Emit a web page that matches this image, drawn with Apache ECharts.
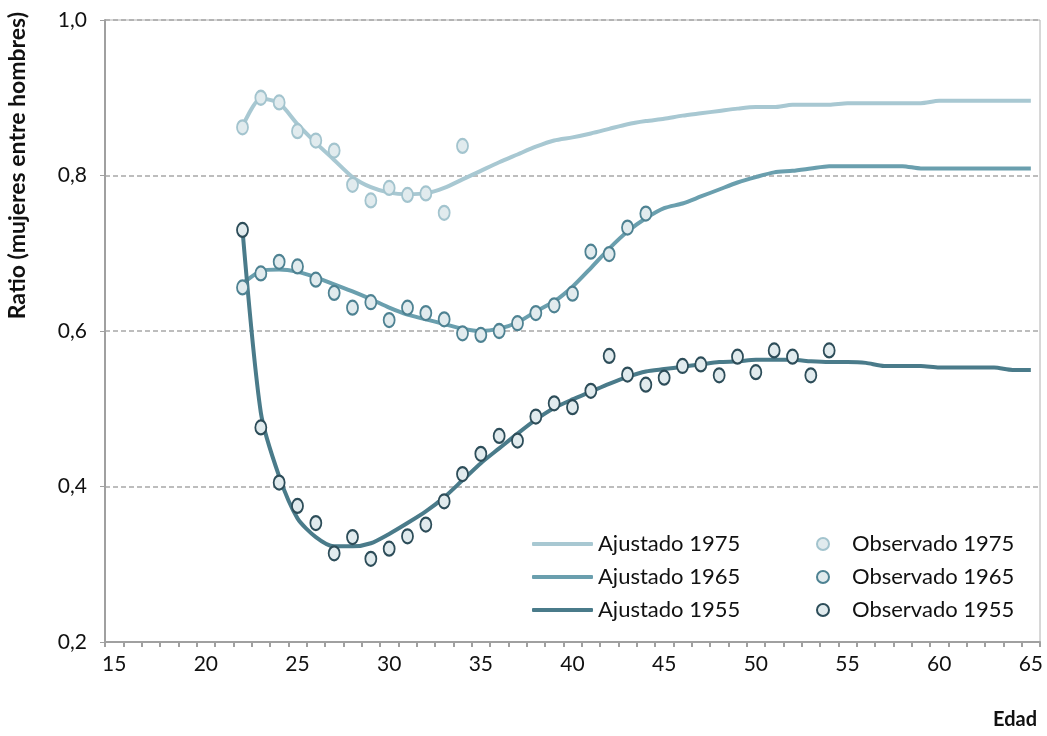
<!DOCTYPE html>
<html>
<head>
<meta charset="utf-8">
<script src="https://cdn.jsdelivr.net/npm/echarts@6/dist/echarts.min.js"></script>
<style>html,body{margin:0;padding:0;background:#fff;}#chart{width:1047px;height:736px;}</style>
</head>
<body>
<div id="chart"></div>
<script>
// Categories: ages 15..65
const ages = [15,16,17,18,19,20,21,22,23,24,25,26,27,28,29,30,31,32,33,34,35,36,37,38,39,40,
  41,42,43,44,45,46,47,48,49,50,51,52,53,54,55,56,57,58,59,60,61,62,63,64,65];
const firstAge = 22;
const yTicks = [0.2, 0.4, 0.6, 0.8, 1.0];

// Fitted (Ajustado) values, ages 22..65
const ajustado1975 = [0.863,0.899,0.893,0.866,0.842,0.820,0.798,0.785,0.778,0.776,0.777,0.784,0.795,0.806,
  0.817,0.827,0.837,0.845,0.849,0.854,0.860,0.866,0.870,0.873,0.877,0.880,0.883,0.886,0.888,0.888,
  0.891,0.891,0.891,0.893,0.893,0.893,0.893,0.893,0.896,0.896,0.896,0.896,0.896,0.896];
const ajustado1965 = [0.661,0.677,0.679,0.676,0.669,0.660,0.651,0.641,0.630,0.621,0.615,0.609,0.603,0.600,
  0.603,0.611,0.625,0.638,0.657,0.681,0.706,0.728,0.745,0.758,0.764,0.773,0.782,0.791,0.798,0.804,
  0.806,0.809,0.812,0.812,0.812,0.812,0.812,0.809,0.809,0.809,0.809,0.809,0.809,0.809];
const ajustado1955 = [0.730,0.495,0.413,0.359,0.335,0.323,0.323,0.327,0.339,0.353,0.368,0.386,0.408,0.430,
  0.449,0.468,0.486,0.501,0.512,0.522,0.532,0.541,0.548,0.551,0.554,0.557,0.560,0.561,0.563,0.563,
  0.563,0.561,0.560,0.560,0.559,0.555,0.555,0.555,0.553,0.553,0.553,0.553,0.550,0.550];

// Observed (Observado) values, starting at age 22
const observado1975 = [0.862,0.900,0.894,0.857,0.845,0.832,0.788,0.768,0.784,0.775,0.777,0.752,0.838];
const observado1965 = [0.656,0.674,0.689,0.683,0.666,0.649,0.630,0.637,0.614,0.630,0.623,0.615,0.597,
  0.595,0.600,0.610,0.623,0.633,0.648,0.702,0.699,0.733,0.751];
const observado1955 = [0.730,0.476,0.405,0.375,0.353,0.314,0.335,0.307,0.320,0.336,0.351,0.381,0.416,
  0.442,0.465,0.459,0.490,0.507,0.502,0.523,0.568,0.544,0.531,0.540,0.555,0.557,0.543,0.567,0.547,
  0.575,0.567,0.543,0.575];

function pad(arr) {
  return ages.map(a => {
    const i = a - firstAge;
    return (i >= 0 && i < arr.length) ? arr[i] : null;
  });
}

const FONT = 'Lato';
const cL75 = '#a8c8d2', cL65 = '#6a9fae', cL55 = '#4a7b8a';
const markerFill = '#e1ebee';

function lineSeries(name, data, color) {
  return { name, type: 'line', data: pad(data), symbol: 'none', smooth: 0.25, z: 2,
    lineStyle: { color, width: 4 }, itemStyle: { color } };
}
function obsSeries(name, data, border) {
  return { name, type: 'scatter', data: pad(data), symbol: 'circle', symbolSize: [11, 14], z: 5,
    itemStyle: { color: markerFill, borderColor: border, borderWidth: 2, opacity: 1 } };
}

const chart = echarts.init(document.getElementById('chart'), null, { renderer: 'canvas' });
chart.setOption({
  animation: false,
  backgroundColor: '#fff',
  grid: { left: 105, right: 7, top: 20, bottom: 94, show: true, borderColor: '#b0b0b0', borderWidth: 1 },
  xAxis: {
    type: 'category', data: ages, boundaryGap: true,
    axisLine: { lineStyle: { color: '#a0a0a0', width: 2 } },
    axisTick: { show: true, interval: 0, length: 5, lineStyle: { color: '#a0a0a0', width: 2 } },
    axisLabel: { interval: (i) => i % 5 === 0, margin: 12, color: '#111', fontFamily: FONT, fontSize: 21 },
    splitLine: { show: false }
  },
  yAxis: {
    type: 'value', min: 0.2, max: 1.0, interval: 0.2,
    axisLine: { show: true, lineStyle: { color: '#a0a0a0', width: 2 } },
    axisTick: { show: true, length: 5, lineStyle: { color: '#a0a0a0', width: 1 } },
    axisLabel: { margin: 18, color: '#111', fontFamily: FONT, fontSize: 21,
      formatter: v => v.toFixed(1).replace('.', ',') },
    splitLine: { show: true, lineStyle: { color: '#a8a8a8', width: 1.5, type: [5, 3] } }
  },
  legend: [
    { data: ['Ajustado 1975', 'Ajustado 1965', 'Ajustado 1955'], orient: 'vertical',
      icon: 'roundRect', left: 527, top: 528, itemWidth: 61, itemHeight: 4, itemGap: 11,
      textStyle: { fontFamily: FONT, fontSize: 22, color: '#111', lineHeight: 20 } },
    { data: ['Observado 1975', 'Observado 1965', 'Observado 1955'], orient: 'vertical',
      left: 811, top: 528, itemWidth: 12, itemHeight: 14, itemGap: 11,
      textStyle: { fontFamily: FONT, fontSize: 22, color: '#111', lineHeight: 20, padding: [0, 0, 0, 18] } }
  ],
  graphic: [
    { type: 'text', left: 6, top: 12, rotation: Math.PI / 2,
      style: { text: 'Ratio (mujeres entre hombres)', fontFamily: FONT, fontWeight: 'bold', fontSize: 23,
        fill: '#111' } },
    { type: 'text', right: 10, top: 710,
      style: { text: 'Edad', fontFamily: FONT, fontWeight: 'bold', fontSize: 20, fill: '#111' } }
  ],
  series: [
    lineSeries('Ajustado 1975', ajustado1975, cL75),
    lineSeries('Ajustado 1965', ajustado1965, cL65),
    lineSeries('Ajustado 1955', ajustado1955, cL55),
    obsSeries('Observado 1975', observado1975, '#a3c4ce'),
    obsSeries('Observado 1965', observado1965, '#4e8292'),
    obsSeries('Observado 1955', observado1955, '#2d4d59')
  ]
});
</script>
</body>
</html>
